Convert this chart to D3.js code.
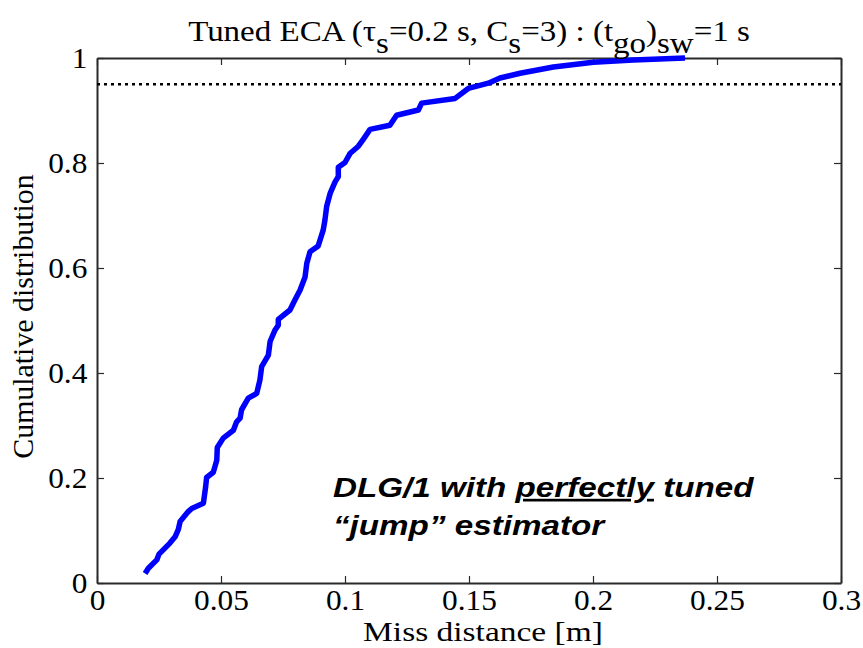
<!DOCTYPE html>
<html>
<head>
<meta charset="utf-8">
<script src="https://cdn.jsdelivr.net/npm/d3@7"></script>
<style>
  body { margin: 0; background: #fff; }
  svg text { font-family: "Liberation Serif", "Times New Roman", serif; }
</style>
</head>
<body>
<div id="chart"></div>
<script>
// Cumulative distribution of miss distance.
const missDistance = [
  0.0194, 0.0207, 0.0241, 0.0250, 0.0294, 0.0315, 0.0328, 0.0335, 0.0368, 0.0382,
  0.0429, 0.0438, 0.0442, 0.0469, 0.0483, 0.0485, 0.0509, 0.0550, 0.0563, 0.0577,
  0.0583, 0.0610, 0.0644, 0.0657, 0.0664, 0.0691, 0.0698, 0.0718, 0.0731, 0.0731,
  0.0778, 0.0798, 0.0819, 0.0839, 0.0846, 0.0859, 0.0892, 0.0912, 0.0919, 0.0926,
  0.0940, 0.0960, 0.0973, 0.0973, 0.1000, 0.1020, 0.1054, 0.1075, 0.1101, 0.1181,
  0.1208, 0.1296, 0.1309, 0.1444, 0.1497, 0.1578, 0.1625, 0.1706, 0.1840, 0.2001,
  0.2163, 0.2371
];
const cumulative = [
  0.018, 0.028, 0.044, 0.055, 0.076, 0.088, 0.102, 0.117, 0.136, 0.142,
  0.152, 0.183, 0.201, 0.211, 0.234, 0.258, 0.276, 0.291, 0.307, 0.314,
  0.330, 0.352, 0.361, 0.387, 0.412, 0.434, 0.460, 0.482, 0.491, 0.502,
  0.520, 0.539, 0.558, 0.583, 0.609, 0.631, 0.642, 0.672, 0.691, 0.717,
  0.742, 0.764, 0.774, 0.792, 0.801, 0.818, 0.832, 0.846, 0.864, 0.872,
  0.891, 0.901, 0.914, 0.923, 0.942, 0.952, 0.962, 0.971, 0.983, 0.992,
  0.996, 1.000
];
const xTicks = [0, 0.05, 0.1, 0.15, 0.2, 0.25, 0.3];
const yTicks = [0, 0.2, 0.4, 0.6, 0.8, 1];
const threshold = 0.95;

const width = 863, height = 648;
const margin = { top: 58, right: 22, bottom: 65, left: 97 };

const svg = d3.select("#chart").append("svg")
  .attr("width", width)
  .attr("height", height);

const x = d3.scaleLinear().domain([0, 0.3]).range([margin.left, width - margin.right]);
const y = d3.scaleLinear().domain([0, 1]).range([height - margin.bottom, margin.top]);

const fmt = d => String(+d.toFixed(2));
const tick = 7;
const stretch = 1.08;   // the reference text is a little wide

// Box axes, ticks pointing inward.
svg.append("g")
  .attr("transform", `translate(0,${y(0)})`)
  .call(d3.axisBottom(x).tickValues(xTicks).tickFormat(fmt).tickSizeInner(-tick).tickSizeOuter(0).tickPadding(tick - 1))
  .call(g => g.selectAll("text").attr("font-size", 29).attr("fill", "#000").attr("dy", "0.71em")
    .attr("transform", `scale(${stretch},1)`));

svg.append("g")
  .attr("transform", `translate(0,${y(1)})`)
  .call(d3.axisTop(x).tickValues(xTicks).tickFormat("").tickSizeInner(-tick).tickSizeOuter(0));

svg.append("g")
  .attr("transform", `translate(${x(0)},0)`)
  .call(d3.axisLeft(y).tickValues(yTicks).tickFormat(fmt).tickSizeInner(-tick).tickSizeOuter(0).tickPadding(tick + 2))
  .call(g => g.selectAll("text").attr("font-size", 29).attr("fill", "#000")
    .attr("transform", `scale(${stretch},1)`));

svg.append("g")
  .attr("transform", `translate(${x(0.3)},0)`)
  .call(d3.axisRight(y).tickValues(yTicks).tickFormat("").tickSizeInner(-tick).tickSizeOuter(0));

svg.selectAll(".domain").attr("stroke", "#2a2a2a").attr("stroke-width", 2);
svg.selectAll(".tick line").attr("stroke", "#2a2a2a").attr("stroke-width", 1.2);

// 95% dotted level.
svg.append("line")
  .attr("x1", x(0)).attr("x2", x(0.3))
  .attr("y1", y(threshold)).attr("y2", y(threshold))
  .attr("stroke", "#000")
  .attr("stroke-width", 2.5)
  .attr("stroke-dasharray", "3,4");

// CDF curve.
const points = missDistance.map((d, i) => [d, cumulative[i]]);
svg.append("path")
  .datum(points)
  .attr("fill", "none")
  .attr("stroke", "#0000ff")
  .attr("stroke-width", 5.5)
  .attr("stroke-linejoin", "round")
  .attr("d", d3.line().x(d => x(d[0])).y(d => y(d[1])));

// Title with subscripts.
const title = svg.append("text")
  .attr("transform", `translate(${x(0.15)},41) scale(1.1,1)`)
  .attr("text-anchor", "middle")
  .attr("font-size", 30);
const parts = [
  ["Tuned ECA (τ", 0], ["s", 1], ["=0.2 s, C", 0], ["s", 1], ["=3) : (t", 0], ["go", 1], [")", 0], ["sw", 1], ["=1 s", 0]
];
let prev = 0;
parts.forEach(([t, sub]) => {
  title.append("tspan")
    .attr("dy", sub - prev ? (sub ? 12 : -12) : 0)
    .text(t);
  prev = sub;
});

// Axis labels.
svg.append("text")
  .attr("transform", `translate(${x(0.15) + 14},641) scale(1.24,1)`)
  .attr("text-anchor", "middle")
  .attr("font-size", 27)
  .text("Miss distance [m]");

svg.append("text")
  .attr("transform", `translate(33,${y(0.5) - 4}) rotate(-90) scale(1.03,1)`)
  .attr("text-anchor", "middle")
  .attr("font-size", 29)
  .text("Cumulative distribution");

// Annotation.
const note = svg.append("g")
  .attr("transform", "translate(333,0) scale(1.23,1)")
  .attr("font-weight", "bold")
  .attr("font-style", "italic")
  .attr("font-size", 27);
const line1 = note.append("text").attr("x", 0).attr("y", 497).style("font-family", "'Liberation Sans', Arial, sans-serif");
line1.append("tspan").text("DLG/1 with ");
line1.append("tspan").attr("text-decoration", "underline").text("perfectly");
line1.append("tspan").text(" tuned");
note.append("text").attr("x", 0).attr("y", 535).style("font-family", "'Liberation Sans', Arial, sans-serif")
  .text("“jump” estimator");
</script>
</body>
</html>
